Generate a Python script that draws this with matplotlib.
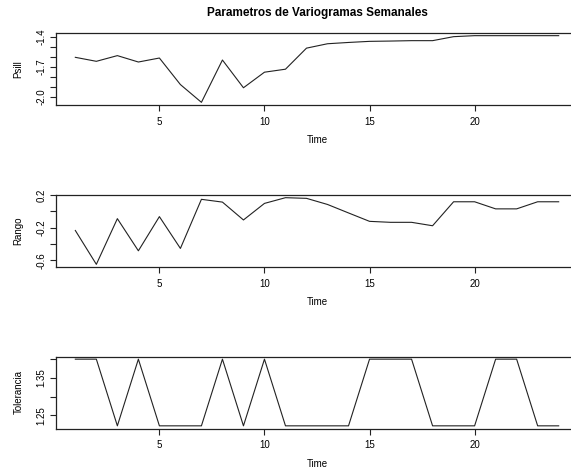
import matplotlib
matplotlib.use("Agg")
import matplotlib.pyplot as plt
import numpy as np

plt.rcParams['font.family'] = ['Liberation Sans', 'DejaVu Sans']

# semanas 1..24
time = list(range(1, 25))

psill = [-1.607, -1.647, -1.590, -1.654, -1.614, -1.880, -2.058, -1.634,
         -1.912, -1.756, -1.726, -1.515, -1.471, -1.458, -1.447, -1.444,
         -1.440, -1.440, -1.400, -1.390, -1.390, -1.390, -1.390, -1.390]

rango = [-0.235, -0.650, -0.090, -0.484, -0.065, -0.455, 0.147, 0.113,
         -0.106, 0.097, 0.167, 0.159, 0.084, -0.020, -0.123, -0.135,
         -0.135, -0.177, 0.117, 0.117, 0.030, 0.030, 0.117, 0.117]

tolerancia = [1.40, 1.40, 1.222, 1.40, 1.222, 1.222, 1.222, 1.40,
              1.222, 1.40, 1.222, 1.222, 1.222, 1.222, 1.40, 1.40,
              1.40, 1.222, 1.222, 1.222, 1.40, 1.40, 1.222, 1.222]

x_ticks = [5, 10, 15, 20]

panels = [
    ("Psill", psill, [-2.0, -1.9, -1.8, -1.7, -1.6, -1.5, -1.4],
     ["-2.0", "", "", "-1.7", "", "", "-1.4"], 105),
    ("Rango", rango, [-0.6, -0.4, -0.2, 0.0, 0.2],
     ["-0.6", "", "-0.2", "", "0.2"], 267),
    ("Tolerancia", tolerancia, [1.25, 1.30, 1.35, 1.40],
     ["1.25", "", "1.35", ""], 428.5),
]

W, H = 571, 468
fig = plt.figure(figsize=(W / 100, H / 100), dpi=100)

left_px, right_px, h_px = 56, 578, 72
for name, vals, yt, ytl, bottom_px in panels:
    ax = fig.add_axes([left_px / W, 1 - bottom_px / H,
                       (right_px - left_px) / W, h_px / H])
    ax.plot(time, vals, color='#222222', lw=0.8)
    ax.margins(x=0.04, y=0.04)
    ax.set_xticks(x_ticks)
    ax.set_yticks(yt)
    ax.set_yticklabels(ytl, rotation=90, va='center')
    ax.tick_params(length=4, width=0.8, pad=4.5, labelsize=7, color='#222222')
    ax.tick_params(axis='y', pad=3)
    for s in ax.spines.values():
        s.set_linewidth(0.9)
        s.set_color('#222222')
    ax.set_xlabel("Time", fontsize=7, va='top')
    ax.xaxis.set_label_coords(0.5, -0.42)
    ax.set_ylabel(name, fontsize=7)
    ax.yaxis.set_label_coords(-0.062, 0.5)
    if name == "Psill":
        ax.set_title("Parametros de Variogramas Semanales",
                     fontsize=8.5, fontweight='bold', pad=12)

fig.savefig("out.png", dpi=100)
